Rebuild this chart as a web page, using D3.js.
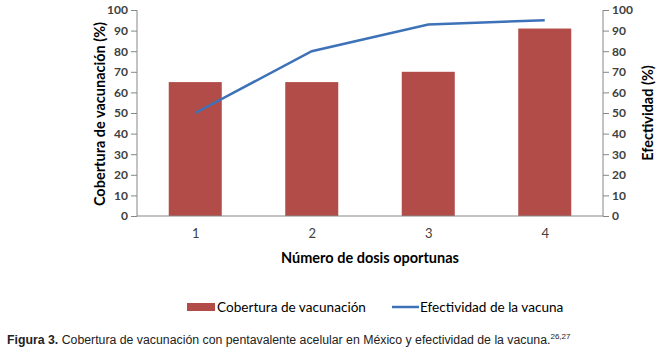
<!DOCTYPE html>
<html>
<head>
<meta charset="utf-8">
<script src="https://cdn.jsdelivr.net/npm/d3@7"></script>
<style>
  body { margin: 0; background: #fff; }
  svg text { font-family: Lato, "Open Sans", sans-serif; }
</style>
</head>
<body>
<svg id="chart"></svg>
<script>
// data
const doses = ["1", "2", "3", "4"];
const cobertura = [65, 65, 70, 91];
const efectividad = [50, 80, 93, 95];
const yTicks = [0, 10, 20, 30, 40, 50, 60, 70, 80, 90, 100];

const width = 663, height = 358;
const margin = { top: 10, left: 137, right: 60, bottom: 142 };
const w = width - margin.left - margin.right;
const h = height - margin.top - margin.bottom;

const svg = d3.select("#chart")
    .attr("width", width)
    .attr("height", height);

const chart = svg.append("g")
    .attr("transform", `translate(${margin.left},${margin.top})`);

const x = d3.scaleBand().domain(doses).range([0, w])
    .paddingInner(0.545).paddingOuter(0.2725);
const xPt = d3.scalePoint().domain(doses).range([0, w]).padding(0.5);
const yL = d3.scaleLinear().domain([0, 100]).range([h, 0]);
const yR = d3.scaleLinear().domain([0, 100]).range([h, 0]);

const axisColor = "#868686";
const textColor = "#404040";

// bars
chart.selectAll(".bar")
    .data(doses)
    .join("rect")
    .attr("class", "bar")
    .attr("x", d => x(d))
    .attr("width", x.bandwidth())
    .attr("y", (d, i) => yL(cobertura[i]))
    .attr("height", (d, i) => h - yL(cobertura[i]))
    .attr("fill", "#B24C48");

// line
chart.append("path")
    .datum(efectividad)
    .attr("fill", "none")
    .attr("stroke", "#3D72B9")
    .attr("stroke-width", 2.5)
    .attr("d", d3.line()
        .x((d, i) => xPt(doses[i]))
        .y(d => yR(d)));

// axes
const leftAxis = chart.append("g")
    .call(d3.axisLeft(yL).tickValues(yTicks).tickSize(6).tickPadding(3));
const rightAxis = chart.append("g")
    .attr("transform", `translate(${w},0)`)
    .call(d3.axisRight(yR).tickValues(yTicks).tickSize(6).tickPadding(3));
const bottomAxis = chart.append("g")
    .attr("transform", `translate(0,${h})`)
    .call(d3.axisBottom(xPt).tickSize(0).tickPadding(13));

[leftAxis, rightAxis, bottomAxis].forEach(g => {
    g.selectAll("path, line").attr("stroke", axisColor);
    g.selectAll("text")
        .attr("fill", textColor)
        .style("font-size", "12px")
        .style("font-weight", "bold");
});
bottomAxis.selectAll("text").style("font-weight", "normal").style("font-size", "13px");
leftAxis.select(".domain").attr("d", `M0,0V${h}`);
rightAxis.select(".domain").attr("d", `M0,0V${h}`);
bottomAxis.select(".domain").attr("d", `M0,0H${w}`);

// axis titles
svg.append("text")
    .attr("transform", `translate(105,${margin.top + h / 2 + 1}) rotate(-90)`)
    .attr("text-anchor", "middle")
    .attr("fill", "#000")
    .style("font-size", "14.5px")
    .style("font-weight", "bold")
    .text("Cobertura de vacunación (%)");

svg.append("text")
    .attr("transform", `translate(653,${margin.top + h / 2}) rotate(-90)`)
    .attr("text-anchor", "middle")
    .attr("fill", "#000")
    .style("font-size", "14.5px")
    .style("font-weight", "bold")
    .text("Efectividad (%)");

svg.append("text")
    .attr("x", margin.left + w / 2)
    .attr("y", 263)
    .attr("text-anchor", "middle")
    .attr("fill", "#000")
    .style("font-size", "14.5px")
    .style("font-weight", "bold")
    .text("Número de dosis oportunas");

// legend
const legend = svg.append("g").attr("transform", "translate(0,307)");
legend.append("rect")
    .attr("x", 187).attr("y", -4)
    .attr("width", 28).attr("height", 8)
    .attr("fill", "#B24C48");
legend.append("text")
    .attr("x", 217).attr("y", 5)
    .attr("fill", "#000")
    .style("font-size", "13.6px")
    .text("Cobertura de vacunación");
legend.append("line")
    .attr("x1", 392).attr("x2", 419)
    .attr("stroke", "#3D72B9").attr("stroke-width", 2.5);
legend.append("text")
    .attr("x", 420).attr("y", 5)
    .attr("fill", "#000")
    .style("font-size", "13.6px")
    .text("Efectividad de la vacuna");

// caption
const cap = svg.append("text")
    .attr("x", 7).attr("y", 344)
    .attr("fill", "#222")
    .style("font-family", "Arial, 'Liberation Sans', sans-serif")
    .style("font-size", "12.3px");
cap.append("tspan").style("font-weight", "bold").text("Figura 3.");
cap.append("tspan").text(" Cobertura de vacunación con pentavalente acelular en México y efectividad de la vacuna.");
cap.append("tspan").attr("dy", -5).style("font-size", "8px").text("26,27");
</script>
</body>
</html>
